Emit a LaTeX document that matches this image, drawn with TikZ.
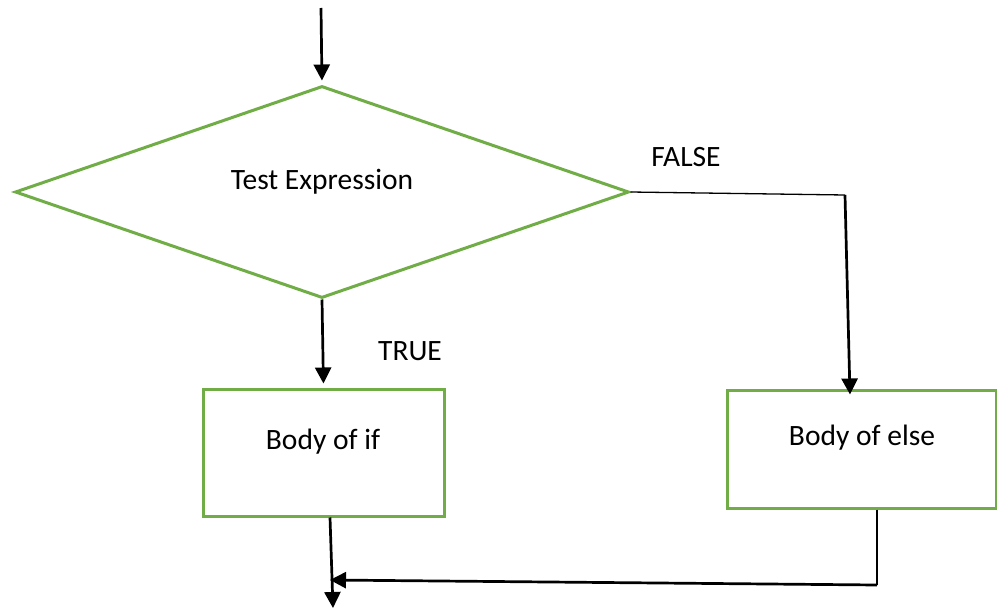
\documentclass[tikz,border=0pt]{standalone}
\usepackage{fontspec}
\setmainfont{Carlito}
\usetikzlibrary{arrows.meta,shapes.geometric}
\definecolor{boxgreen}{RGB}{112,173,71}

\begin{document}
\begin{tikzpicture}[x=1pt, y=-1pt, font=\fontsize{29.5}{34}\selectfont,
	greenbox/.style={draw=boxgreen, line width=3pt, inner sep=0pt},
	txt/.style={inner sep=0pt},
	arr/.style={line width=2.7pt, -{Triangle[length=16pt,width=16pt]}},
	thinline/.style={line width=1.3pt}]
	\useasboundingbox (0,0) rectangle (997,610);
	% decision and the two branches
	\node[greenbox, diamond, minimum width=614pt, minimum height=212pt] (test) at (322,192) {};
	\node[txt] (testtext) at (322,182) {Test Expression};
	\node[greenbox, rectangle, minimum width=241pt, minimum height=127pt] (ifbox) at (323.5,452.5) {};
	\node[txt] (iftext) at (323,442) {Body of if};
	\node[greenbox, rectangle, minimum width=269pt, minimum height=118pt] (elsebox) at (861.5,449) {};
	\node[txt] (elsetext) at (862,438) {Body of else};
	\node[txt] (falselbl) at (686,157) {FALSE};
	\node[txt] (truelbl) at (410,351) {TRUE};
	\coordinate (start) at (321,8);
	\coordinate (fcorner) at (845,195);
	\coordinate (ecorner) at (877,585);
	\coordinate (join) at (330,580);
	\coordinate (exit) at (333,608);
	% connectors
	\draw[arr, shorten >=4pt] (start) -- (test.north);
	\draw[arr, shorten >=4pt] (test.south) -- (ifbox.north);
	\draw[thinline] (test.east) -- (fcorner);
	\draw[arr] (fcorner) -- ([xshift=-11.5pt,yshift=-6pt]elsebox.north);
	\draw[arr] ([xshift=6.5pt]ifbox.south) -- (exit);
	\draw[thinline] ([xshift=15.5pt]elsebox.south) -- (ecorner);
	\draw[arr] (ecorner) -- (join);
\end{tikzpicture}
\end{document}
